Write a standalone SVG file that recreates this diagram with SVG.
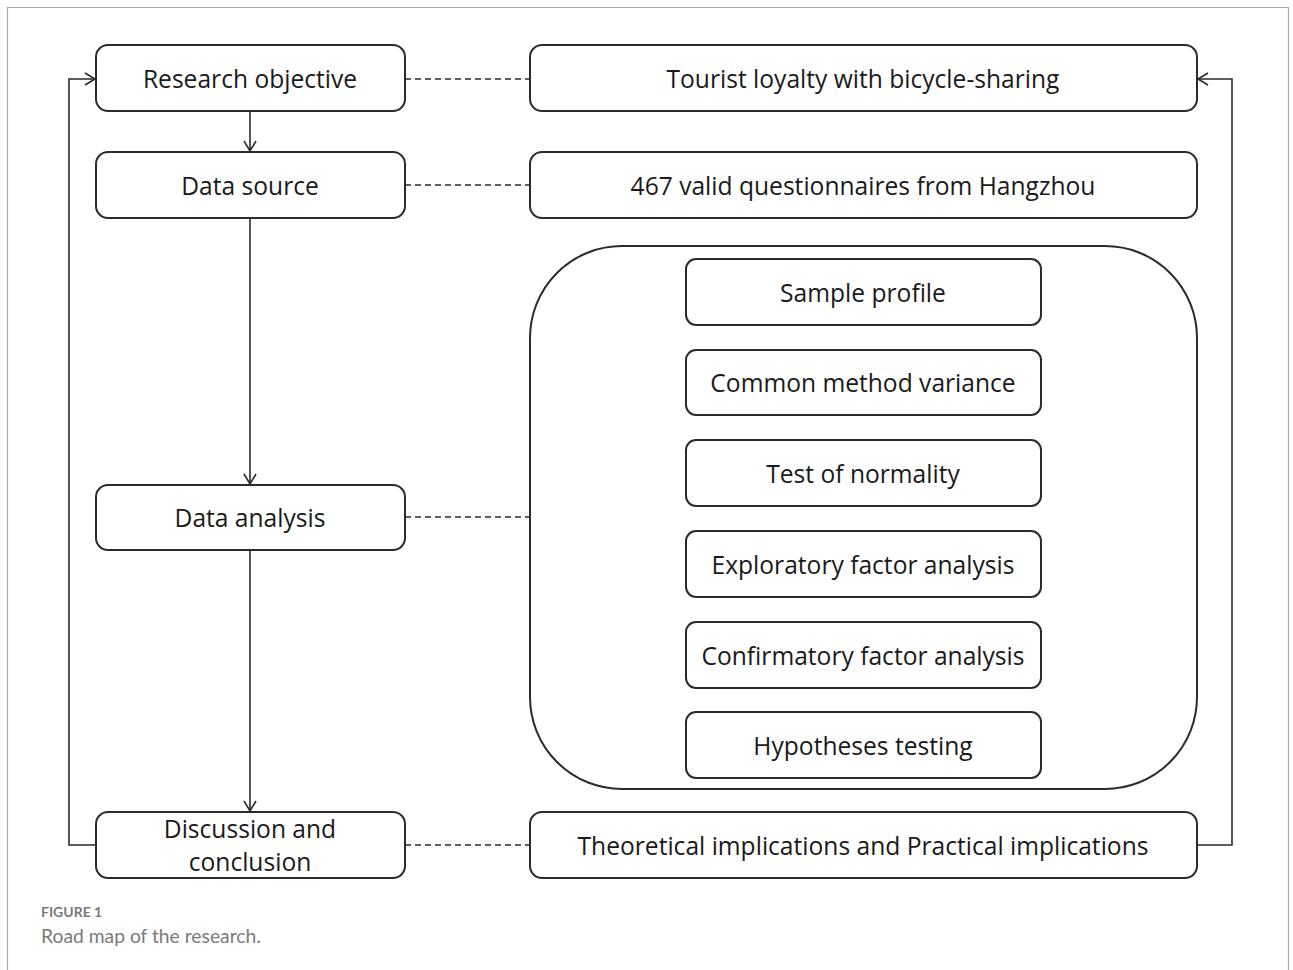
<svg xmlns="http://www.w3.org/2000/svg" width="1293" height="970" viewBox="0 0 1293 970">
<style>
.box{fill:#fff;stroke:#2b2b2b;stroke-width:2}
.t{font-family:"Open Sans","Liberation Sans",sans-serif;font-size:24.6px;fill:#1a1a1a;text-anchor:middle}
.ln{fill:none;stroke:#2b2b2b;stroke-width:1.6}
.dash{fill:none;stroke:#2b2b2b;stroke-width:1.6;stroke-dasharray:6 4}
.cap1{font-family:Lato,"Liberation Sans",sans-serif;font-size:14px;font-weight:bold;fill:#7a7a7a}
.cap2{font-family:Lato,"Liberation Sans",sans-serif;font-size:19.3px;fill:#7a7a7a}
</style>
<defs>
<marker id="ah" markerWidth="14" markerHeight="14" refX="12" refY="7" orient="auto" markerUnits="userSpaceOnUse">
<path d="M2,1 L12,7 L2,13" fill="none" stroke="#2b2b2b" stroke-width="1.6"/>
</marker>
</defs>
<rect x="0" y="0" width="1293" height="970" fill="#fff"/>
<path d="M7.5,975 V7.5 H1288.5 V975" fill="none" stroke="#aaa" stroke-width="1.2"/>
<g id="connectors">
<path class="ln" d="M250,111 V151" marker-end="url(#ah)"/>
<path class="ln" d="M250,218 V484" marker-end="url(#ah)"/>
<path class="ln" d="M250,550 V811" marker-end="url(#ah)"/>
<path class="ln" d="M96,845 H69 V79 H95" marker-end="url(#ah)"/>
<path class="ln" d="M1197,845 H1232 V79 H1198" marker-end="url(#ah)"/>
<path class="ln" d="M621,295 V745" marker-end="url(#ah)"/>
<path class="dash" d="M405,79 H530"/>
<path class="dash" d="M405,185 H530"/>
<path class="dash" d="M405,517 H530"/>
<path class="dash" d="M405,845 H530"/>
</g>
<g id="n-research-objective"><rect class="box" x="96" y="45" width="309" height="66" rx="12"/><text class="t" x="250" y="88">Research objective</text></g>
<g id="n-data-source"><rect class="box" x="96" y="152" width="309" height="66" rx="12"/><text class="t" x="250" y="195">Data source</text></g>
<g id="n-data-analysis"><rect class="box" x="96" y="485" width="309" height="65" rx="12"/><text class="t" x="250" y="527">Data analysis</text></g>
<g id="n-discussion"><rect class="box" x="96" y="812" width="309" height="66" rx="12"/><text class="t" x="250" y="838">Discussion and</text><text class="t" x="250" y="871">conclusion</text></g>
<g id="n-tourist-loyalty"><rect class="box" x="530" y="45" width="667" height="66" rx="12"/><text class="t" x="863" y="88">Tourist loyalty with bicycle-sharing</text></g>
<g id="n-questionnaires"><rect class="box" x="530" y="152" width="667" height="66" rx="12"/><text class="t" x="863" y="195">467 valid questionnaires from Hangzhou</text></g>
<g id="n-analysis-group"><rect class="box" x="530" y="246" width="667" height="543" rx="92"/></g>
<g id="n-sample-profile"><rect class="box" x="686" y="259" width="355" height="66" rx="10"/><text class="t" x="863" y="302">Sample profile</text></g>
<g id="n-cmv"><rect class="box" x="686" y="350" width="355" height="65" rx="10"/><text class="t" x="863" y="392">Common method variance</text></g>
<g id="n-normality"><rect class="box" x="686" y="440" width="355" height="66" rx="10"/><text class="t" x="863" y="483">Test of normality</text></g>
<g id="n-efa"><rect class="box" x="686" y="531" width="355" height="66" rx="10"/><text class="t" x="863" y="574">Exploratory factor analysis</text></g>
<g id="n-cfa"><rect class="box" x="686" y="622" width="355" height="66" rx="10"/><text class="t" x="863" y="665">Confirmatory factor analysis</text></g>
<g id="n-hypotheses"><rect class="box" x="686" y="712" width="355" height="66" rx="10"/><text class="t" x="863" y="755">Hypotheses testing</text></g>
<g id="n-implications"><rect class="box" x="530" y="812" width="667" height="66" rx="12"/><text class="t" x="863" y="855">Theoretical implications and Practical implications</text></g>
<text class="cap1" x="41" y="917">FIGURE 1</text>
<text class="cap2" x="41" y="943">Road map of the research.</text>
</svg>
